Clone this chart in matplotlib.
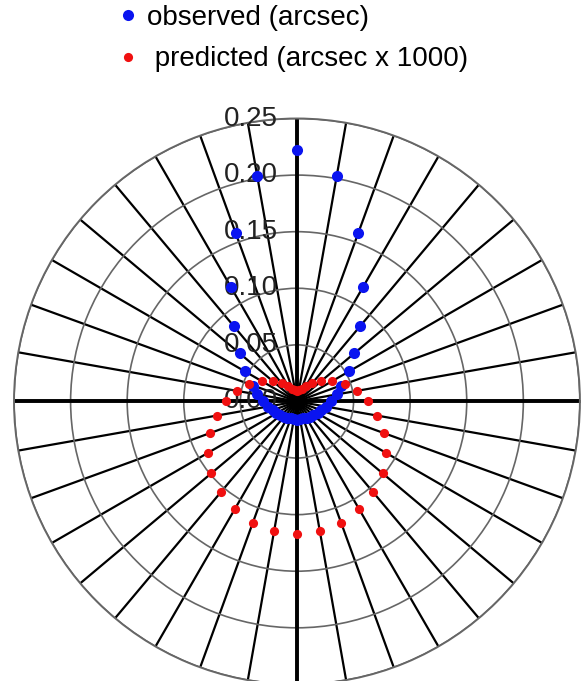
import numpy as np
import matplotlib
matplotlib.use('Agg')
import matplotlib.pyplot as plt
from matplotlib.transforms import offset_copy

plt.rcParams['font.family'] = ['Liberation Sans', 'DejaVu Sans']

# angles of the samples (degrees), every 10 degrees
angles_deg = np.arange(0, 360, 10)

# observed offsets (arcsec)
observed = [0.030, 0.036, 0.041, 0.053, 0.066, 0.087, 0.117, 0.158, 0.202,
            0.222, 0.202, 0.158, 0.117, 0.087, 0.066, 0.053, 0.041, 0.036,
            0.030, 0.026, 0.023, 0.021, 0.019, 0.018, 0.017, 0.016, 0.016,
            0.016, 0.016, 0.016, 0.017, 0.018, 0.019, 0.021, 0.023, 0.026]

# predicted offsets (arcsec x 1000)
predicted = [0.063, 0.054, 0.045, 0.036, 0.028, 0.021, 0.016, 0.012, 0.010,
             0.009, 0.010, 0.012, 0.016, 0.021, 0.028, 0.036, 0.045, 0.054,
             0.063, 0.072, 0.082, 0.091, 0.099, 0.105, 0.110, 0.114, 0.116,
             0.117, 0.116, 0.114, 0.110, 0.105, 0.099, 0.091, 0.082, 0.072]

r_ticks = [0.00, 0.05, 0.10, 0.15, 0.20, 0.25]
r_tick_labels = ['0.00', '0.05', '0.10', '0.15', '0.20', '0.25']

theta = np.deg2rad(angles_deg)

fig = plt.figure(figsize=(5.84, 6.81), dpi=100)
ax = fig.add_axes([0.024, -0.005, 0.969, 0.831], projection='polar')

ax.set_ylim(0, 0.25)
ax.set_thetagrids(np.arange(0, 360, 10), labels=[])
ax.set_rgrids(r_ticks[1:], labels=[])
ax.xaxis.grid(True, color='black', lw=1.6)
ax.yaxis.grid(True, color='#666666', lw=1.2)
ax.spines['polar'].set_color('#666666')
ax.spines['polar'].set_linewidth(1.4)

# heavier main axes
for a in [0, np.pi / 2, np.pi, 3 * np.pi / 2]:
    ax.axvline(a, color='black', lw=2.8, zorder=2)

# radial labels just left of the vertical axis
trans = offset_copy(ax.transData, fig=fig, x=-0.19, y=0, units='inches')
for r, lab in zip(r_ticks, r_tick_labels):
    ax.text(np.pi / 2, r, lab, transform=trans, ha='right', va='center',
            fontsize=20, color='#222222', zorder=3)

ax.plot(theta, observed, 'o', color='#0a14f0', ms=8, mec='none',
        label='observed (arcsec)', zorder=5)
ax.plot(theta, predicted, 'o', color='#f01010', ms=6.6, mec='none',
        label=' predicted (arcsec x 1000)', zorder=6)

ax.legend(loc='upper left', bbox_to_anchor=(119.6 / 584, 1 - 5 / 681),
          bbox_transform=fig.transFigure, frameon=False, fontsize=20,
          handlelength=0.6, handletextpad=0.4, borderpad=0, borderaxespad=0,
          labelspacing=0.55)

fig.savefig('out.png', dpi=100)
